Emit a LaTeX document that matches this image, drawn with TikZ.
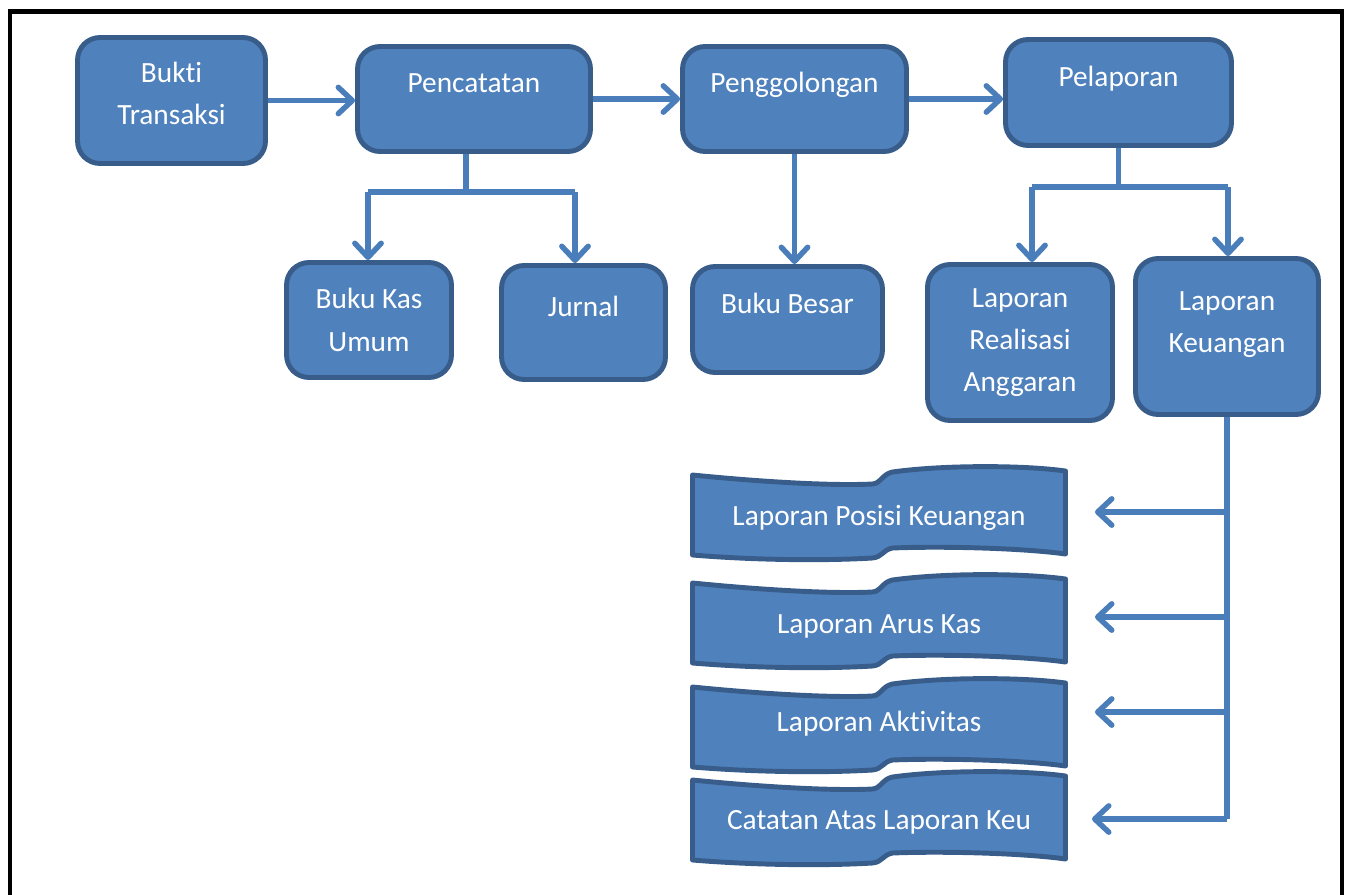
\documentclass[tikz,border=0pt]{standalone}
\usepackage{fontspec}
\setmainfont{Carlito}[Ligatures=NoCommon]
\usepackage{xcolor}
\usepackage{tikz}
\usetikzlibrary{arrows.meta,positioning}
\definecolor{boxfill}{HTML}{4F81BD}
\definecolor{boxline}{HTML}{385D8A}
\definecolor{linkblue}{HTML}{4A7EBB}
\tikzstyle{block} = [rectangle, draw=boxline, fill=boxfill, line width=2.8pt, rounded corners=0.45cm, text=white, align=center, inner sep=0pt, font=\fontsize{16.7}{24}\selectfont]
\tikzstyle{topline} = [text height=11pt, text depth=18pt]
\tikzstyle{wave} = [draw=boxline, fill=boxfill, line width=2.8pt, line join=round]
\tikzstyle{wavetext} = [text=white, inner sep=0pt, minimum width=7.46cm, font=\fontsize{16.7}{24}\selectfont]
\tikzstyle{link} = [draw=linkblue, line width=3.1pt]
% banner shape, #2 = top of the banner, #3 = height of the text
\newcommand{\wavebox}[4]{%
  \filldraw[wave, shift={(692.5,#2)}] (0,10) .. controls (70,17) and (140,21) .. (180,19)
    .. controls (188,18.5) and (190,9) .. (200,7)
    .. controls (250,0) and (330,0) .. (373,6) -- (373,89)
    .. controls (330,83) and (250,81) .. (200,83)
    .. controls (190,85) and (190,92) .. (180,93)
    .. controls (130,96) and (60,95) .. (0,90) -- cycle;
  \node[wavetext] (#1) at (879,#3) {#4};}

\begin{document}
\begin{tikzpicture}[x=0.02cm, y=-0.02cm, >={Straight Barb[length=8pt,width=15pt,round]}]
	\useasboundingbox (0,0) rectangle (1351,895);
	% frame
	\draw[line width=2.3pt] (10,895) -- (10,11.5) -- (1342,11.5) -- (1342,895);

	\node[block, minimum width=3.76cm, minimum height=2.52cm] (bukti) at (171.5,100.5) {Bukti\\Transaksi\\[-16pt]\mbox{}};
	\node[block, topline, minimum width=4.66cm, minimum height=2.10cm] (pencatatan) at (474,99) {Pencatatan};
	\node[block, topline, minimum width=4.48cm, minimum height=2.10cm] (penggolongan) at (794.5,99) {Penggolongan};
	\node[block, topline, minimum width=4.52cm, minimum height=2.12cm] (pelaporan) at (1118.5,92.5) {Pelaporan};

	\node[block, minimum width=3.30cm, minimum height=2.30cm] (bku) at (369,320) {Buku Kas\\Umum};
	\node[block, topline, minimum width=3.28cm, minimum height=2.28cm] (jurnal) at (583.5,322.5) {Jurnal};
	\node[block, topline, minimum width=3.80cm, minimum height=2.12cm] (bb) at (787.5,319.5) {Buku Besar};
	\node[block, minimum width=3.70cm, minimum height=3.12cm] (lra) at (1020,342.5) {Laporan\\Realisasi\\Anggaran};
	\node[block, minimum width=3.66cm, minimum height=3.12cm] (lk) at (1227,336.5) {Laporan\\Keuangan\\[-7.5pt]\mbox{}};

	\wavebox{lpk}{465}{518}{Laporan Posisi Keuangan}
	\wavebox{lak}{573}{626}{Laporan Arus Kas}
	\wavebox{lakt}{677}{724}{Laporan Aktivitas}
	\wavebox{calk}{770}{822}{Catatan Atas Laporan Keu}

	% top row
	\draw[link,->] (bukti.east) -- (bukti.east -| pencatatan.west);
	\draw[link,->] (pencatatan) -- (penggolongan);
	\draw[link,->] (penggolongan.east) -- (penggolongan.east -| pelaporan.west);

	% Pencatatan fork
	\coordinate (fa) at (368,192);
	\coordinate (fb) at (575,192);
	\draw[link] (pencatatan.south -| 466,0) -- (466,192);
	\draw[link] (fa) -- (fb);
	\draw[link,->] (fa) -- (fa |- bku.north);
	\draw[link,->] (fb) -- (fb |- jurnal.north);

	\draw[link,->] (penggolongan.south) -- (penggolongan.south |- bb.north);

	% Pelaporan fork
	\coordinate (ra) at (1032,187);
	\coordinate (rb) at (1228,187);
	\draw[link] (pelaporan.south) -- (pelaporan.south |- ra);
	\draw[link] (ra) -- (rb);
	\draw[link,->] (ra) -- (ra |- lra.north);
	\draw[link,->] (rb) -- (rb |- lk.north);

	% Laporan Keuangan to the four reports
	\coordinate (k1) at (1227,512);
	\coordinate (k2) at (1227,617);
	\coordinate (k3) at (1227,712);
	\coordinate (k4) at (1227,819);
	\coordinate (t1) at (1095,512);
	\coordinate (t2) at (1095,617);
	\coordinate (t3) at (1095,712);
	\coordinate (t4) at (1092,819);
	\draw[link] (lk.south) -- (k4);
	\draw[link,->] (k1) -- (t1);
	\draw[link,->] (k2) -- (t2);
	\draw[link,->] (k3) -- (t3);
	\draw[link,->] (k4) -- (t4);
\end{tikzpicture}
\end{document}
